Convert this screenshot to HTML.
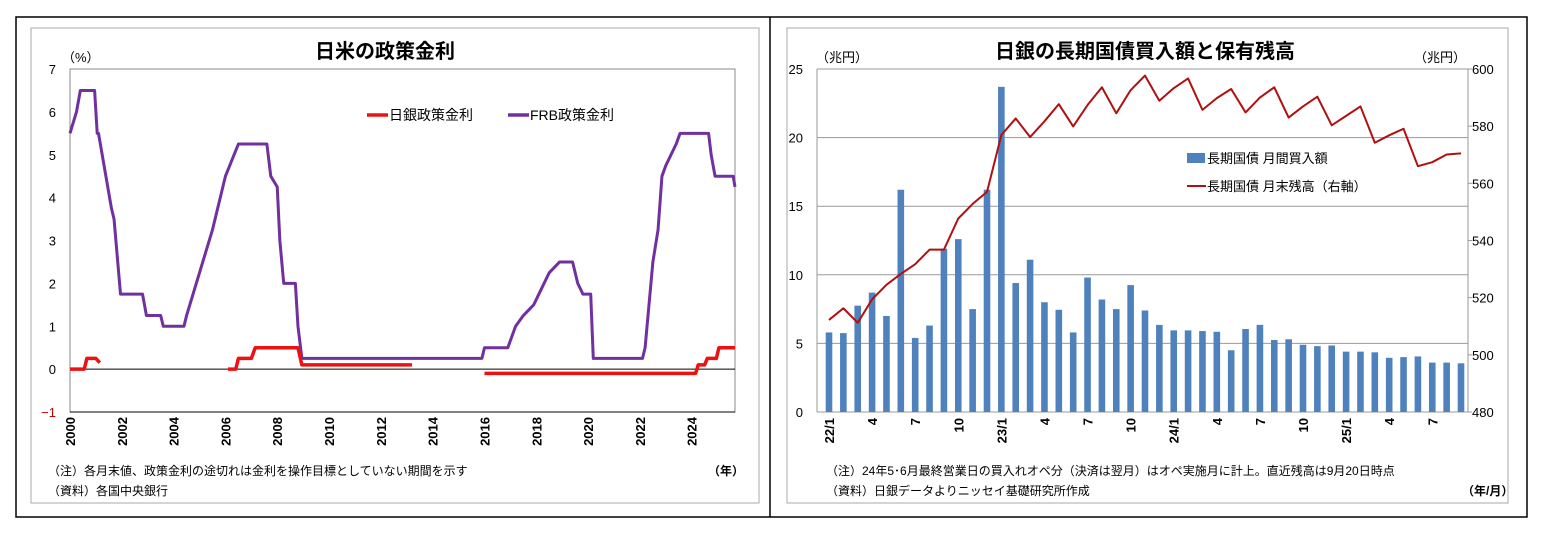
<!DOCTYPE html>
<html><head><meta charset="utf-8">
<style>
body{margin:0;background:#fff;}
svg{display:block;font-family:"Liberation Sans","Noto Sans CJK JP",sans-serif;}
</style></head>
<body>
<svg width="1547" height="535" xmlns="http://www.w3.org/2000/svg">
<rect x="16" y="17" width="1511" height="500" fill="#fff" stroke="#000" stroke-width="1.5"/>
<line x1="770" y1="17" x2="770" y2="517" stroke="#000" stroke-width="1.5"/>
<rect x="31" y="28" width="728" height="475" fill="none" stroke="#aaa"/>
<rect x="787" y="28" width="721" height="475" fill="none" stroke="#aaa"/>
<g id="left"></g>
<g id="right"></g>
</svg>
<script>
// ---- Left chart data ----
const frbDates=[2000.0,2000.25,2000.4,2000.95,2001.0,2001.05,2001.1,2001.6,2001.7,2001.95,2002.8,2002.95,2003.5,2003.6,2004.4,2004.5,2005.0,2005.5,2006.0,2006.5,2007.6,2007.75,2008.0,2008.1,2008.25,2008.7,2008.8,2008.95,2015.9,2016.0,2016.9,2017.2,2017.5,2017.9,2018.5,2018.9,2019.4,2019.6,2019.8,2020.1,2020.2,2022.1,2022.2,2022.5,2022.7,2022.85,2023.0,2023.2,2023.4,2023.55,2024.65,2024.75,2024.9,2025.6,2025.67];
const frbValues=[5.5,6.0,6.5,6.5,6.0,5.5,5.5,3.75,3.5,1.75,1.75,1.25,1.25,1.0,1.0,1.25,2.25,3.25,4.5,5.25,5.25,4.5,4.25,3.0,2.0,2.0,1.0,0.25,0.25,0.5,0.5,1.0,1.25,1.5,2.25,2.5,2.5,2.0,1.75,1.75,0.25,0.25,0.5,2.5,3.25,4.5,4.75,5.0,5.25,5.5,5.5,5.0,4.5,4.5,4.25];
const bojDates1=[2000.0,2000.55,2000.65,2001.0,2001.15];
const bojValues1=[0,0,0.25,0.25,0.15];
const bojDates2=[2006.1,2006.4,2006.5,2007.0,2007.15,2008.8,2008.95,2013.2];
const bojValues2=[0,0,0.25,0.25,0.5,0.5,0.1,0.1];
const bojDates3=[2016.0,2024.15,2024.25,2024.5,2024.6,2024.95,2025.05,2025.67];
const bojValues3=[-0.1,-0.1,0.1,0.1,0.25,0.25,0.5,0.5];
const leftYTicks=[-1,0,1,2,3,4,5,6,7];
const leftXTicks=[2000,2002,2004,2006,2008,2010,2012,2014,2016,2018,2020,2022,2024];

// ---- Right chart data ----
const months=["22/1","","","4","","","7","","","10","","","23/1","","","4","","","7","","","10","","","24/1","","","4","","","7","","","10","","","25/1","","","4","","","7","",""];
const purchases=[5.8,5.75,7.75,8.7,7.0,16.2,5.4,6.3,11.9,12.6,7.5,16.2,23.7,9.4,11.1,8.0,7.45,5.8,9.8,8.2,7.5,9.25,7.4,6.35,5.95,5.95,5.9,5.85,4.5,6.05,6.35,5.25,5.3,4.9,4.8,4.85,4.4,4.4,4.35,3.95,4.0,4.05,3.6,3.6,3.55];
const holdings=[512.2,516.3,511.2,519.4,524.5,528.3,531.7,536.8,536.8,547.7,552.8,557,576.9,582.7,576.2,581.7,587.7,579.9,587.4,593.6,584.5,592.6,597.7,588.9,593.3,596.7,585.7,589.8,593,584.8,590,593.6,583,586.9,590.3,580.3,583.6,586.9,574.2,576.8,579.1,566,567.4,570.1,570.5];
const rightLTicks=[0,5,10,15,20,25];
const rightRTicks=[480,500,520,540,560,580,600];

const NS="http://www.w3.org/2000/svg";
function mk(parent,tag,attrs,text){const e=document.createElementNS(NS,tag);for(const k in attrs)e.setAttribute(k,attrs[k]);if(text!==undefined)e.textContent=text;parent.appendChild(e);return e;}

// Left chart
const L=document.getElementById('left');
const lx0=70,lx1=735,ly0=69,ly1=412;
const lxs=y=>lx0+(y-2000)/(2025.67-2000)*(lx1-lx0);
const lys=v=>ly1-(v+1)/8*(ly1-ly0);
let t=mk(L,'text',{x:385,y:58,'text-anchor':'middle','font-size':20,'font-weight':'bold'},'日米の政策金利');


let r=mk(L,'rect',{x:lx0,y:ly0,width:lx1-lx0,height:ly1-ly0,fill:'none',stroke:'#888'});


t=mk(L,'text',{x:62,y:62,'font-size':13},'（%）');


leftYTicks.forEach(v=>{
  const e=mk(L,'text',{x:56,y:lys(v)+5,'text-anchor':'end','font-size':13,fill:v<0?'#c00000':'#000'},v<0?'−1':String(v));
  
  
});
let zl=mk(L,'line',{x1:lx0,x2:lx1,y1:lys(0),y2:lys(0),stroke:'#000','stroke-width':1});


mk(L,'line',{x1:lx0,x2:lx1,y1:ly1,y2:ly1,stroke:'#000'});
leftXTicks.forEach(y=>{
  const x=lxs(y);
  const e=mk(L,'text',{transform:`translate(${x+5},${ly1+5}) rotate(-90)`,'text-anchor':'end','font-size':13,'font-weight':'bold'},String(y));
  
  
});
function pl(g,xs,ys,fx,fy,color,w,name){
  const p=mk(g,'polyline',{points:xs.map((x,i)=>fx(x)+','+fy(ys[i])).join(' '),fill:'none',stroke:color,'stroke-width':w,'stroke-linejoin':'round'});
  
  
}
pl(L,frbDates,frbValues,lxs,lys,'#7030a0',3,'frb-rate-line');
pl(L,bojDates1,bojValues1,lxs,lys,'#ee1111',3.5,'boj-rate-line-1');
pl(L,bojDates2,bojValues2,lxs,lys,'#ee1111',3.5,'boj-rate-line-2');
pl(L,bojDates3,bojValues3,lxs,lys,'#ee1111',3.5,'boj-rate-line-3');
let lg=mk(L,'line',{x1:367,x2:388,y1:115,y2:115,stroke:'#ee1111','stroke-width':3.5});


t=mk(L,'text',{x:389,y:120,'font-size':14},'日銀政策金利');


lg=mk(L,'line',{x1:508,x2:529,y1:115,y2:115,stroke:'#7030a0','stroke-width':3.5});


t=mk(L,'text',{x:530,y:120,'font-size':14},'FRB政策金利');


t=mk(L,'text',{x:48,y:475,'font-size':12},'（注）各月末値、政策金利の途切れは金利を操作目標としていない期間を示す');


t=mk(L,'text',{x:48,y:495,'font-size':12},'（資料）各国中央銀行');


t=mk(L,'text',{x:708,y:475,'font-size':12,'font-weight':'bold'},'（年）');



// Right chart
const R=document.getElementById('right');
const rx0=817,rx1=1468,ry0=69,ry1=412;
const bx=i=>829+i*(1461-829)/(months.length-1);
const ryl=v=>ry1-v/25*(ry1-ry0);
const ryr=v=>ry1-(v-480)/120*(ry1-ry0);
t=mk(R,'text',{x:1145,y:58,'text-anchor':'middle','font-size':20,'font-weight':'bold'},'日銀の長期国債買入額と保有残高');


t=mk(R,'text',{x:816,y:62,'font-size':13},'（兆円）');


t=mk(R,'text',{x:1414,y:62,'font-size':13},'（兆円）');


rightLTicks.forEach(v=>{
  const g=mk(R,'line',{x1:rx0,x2:rx1,y1:ryl(v),y2:ryl(v),stroke:'#999'});
  
  
  const e=mk(R,'text',{x:803,y:ryl(v)+5,'text-anchor':'end','font-size':13},String(v));
  
  
});
rightRTicks.forEach(v=>{
  const e=mk(R,'text',{x:1472,y:ryr(v)+5,'font-size':13},String(v));
  
  
  mk(R,'line',{x1:rx1,x2:rx1+4,y1:ryr(v),y2:ryr(v),stroke:'#999'});
});
mk(R,'line',{x1:rx0,x2:rx0,y1:ry0,y2:ry1,stroke:'#999'});
mk(R,'line',{x1:rx1,x2:rx1,y1:ry0,y2:ry1,stroke:'#999'});
purchases.forEach((v,i)=>{
  const b=mk(R,'rect',{x:bx(i)-3.3,y:ryl(v),width:6.6,height:ryl(0)-ryl(v),fill:'#4f81bd'});
  
  
});
pl(R,holdings.map((_,i)=>i),holdings,bx,ryr,'#b01010',2,'holdings-line');
months.forEach((m,i)=>{
  if(!m)return;
  const e=mk(R,'text',{transform:`translate(${bx(i)+5},${ry1+6}) rotate(-90)`,'text-anchor':'end','font-size':13,'font-weight':'bold'},m);
  
  
});
r=mk(R,'rect',{x:1187,y:153,width:18,height:10,fill:'#4f81bd'});


t=mk(R,'text',{x:1207,y:163,'font-size':13},'長期国債  月間買入額');


lg=mk(R,'line',{x1:1187,x2:1206,y1:186,y2:186,stroke:'#b01010','stroke-width':2});


t=mk(R,'text',{x:1207,y:191,'font-size':13},'長期国債  月末残高（右軸）');


t=mk(R,'text',{x:826,y:475,'font-size':12},'（注）24年5･6月最終営業日の買入れオペ分（決済は翌月）はオペ実施月に計上。直近残高は9月20日時点');


t=mk(R,'text',{x:826,y:495,'font-size':12},'（資料）日銀データよりニッセイ基礎研究所作成');


t=mk(R,'text',{x:1462,y:495,'font-size':12,'font-weight':'bold'},'（年/月）');


</script>
</body></html>
